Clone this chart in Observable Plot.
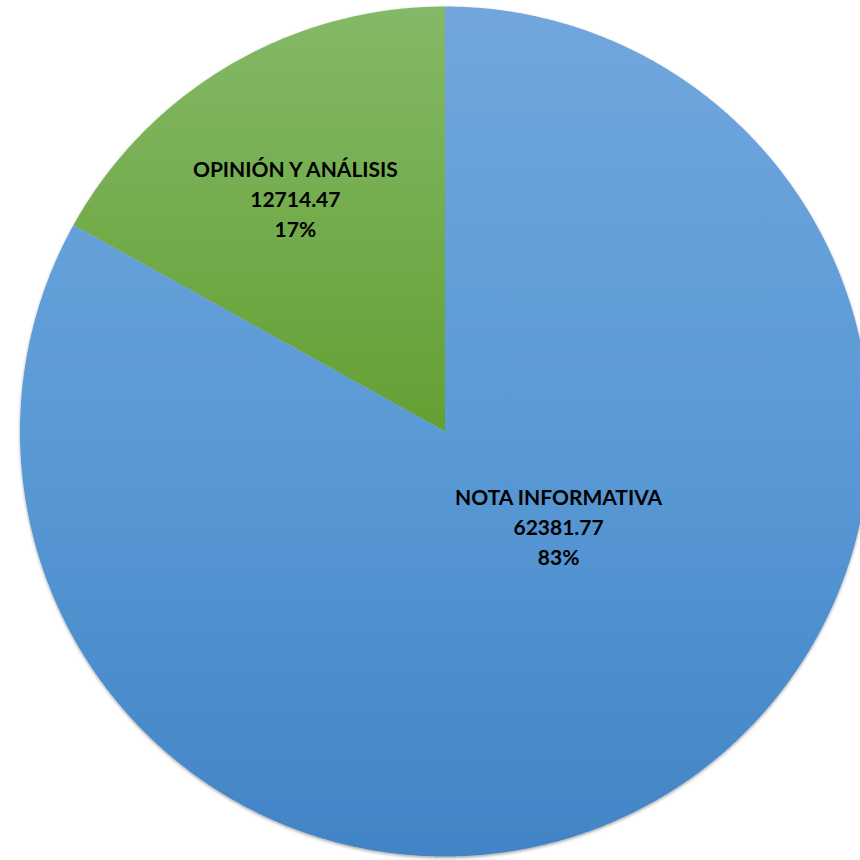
<!DOCTYPE html>
<html>
<head>
<meta charset="utf-8">
<script src="https://cdn.jsdelivr.net/npm/d3@7"></script>
<script src="https://cdn.jsdelivr.net/npm/@observablehq/plot@0.6"></script>
<style>
html, body { margin: 0; padding: 0; background: #fff; overflow: hidden; }
#chart svg { overflow: hidden; display: block; }
</style>
</head>
<body>
<div id="chart"></div>
<script>
const categories = ["OPINIÓN Y ANÁLISIS", "NOTA INFORMATIVA"];
const values = [12714.47, 62381.77];
const percentLabels = ["17%", "83%"];
const gradientIds = ["gGreen", "gBlue"];

// Slices drawn counter-clockwise from 12 o'clock
const pie = d3.pie().sort(null).startAngle(0).endAngle(-2 * Math.PI)(values);

const slicePoints = [];
pie.forEach((p, i) => {
  const a0 = p.startAngle, a1 = p.endAngle;
  const n = Math.max(4, Math.ceil(Math.abs(a1 - a0) / 0.005));
  slicePoints.push({cat: categories[i], x: 0, y: 0});
  for (let k = 0; k <= n; k++) {
    const a = a0 + (a1 - a0) * k / n;
    slicePoints.push({cat: categories[i], x: Math.sin(a), y: Math.cos(a)});
  }
  slicePoints.push({cat: categories[i], x: 0, y: 0});
});

const labelData = pie.map((p, i) => {
  const mid = (p.startAngle + p.endAngle) / 2;
  const rr = i === 0 ? 0.62 : 0.36;
  return {
    cat: categories[i],
    x: Math.sin(mid) * rr,
    y: Math.cos(mid) * rr,
    text: `${categories[i]}\n${values[i].toFixed(2)}\n${percentLabels[i]}`
  };
});

const defs = () => {
  const ns = "http://www.w3.org/2000/svg";
  const d = document.createElementNS(ns, "defs");
  const mk = (id, stops) => {
    const g = document.createElementNS(ns, "linearGradient");
    g.setAttribute("id", id);
    g.setAttribute("x1", "0"); g.setAttribute("y1", "0");
    g.setAttribute("x2", "0"); g.setAttribute("y2", "1");
    stops.forEach(([o, c]) => {
      const s = document.createElementNS(ns, "stop");
      s.setAttribute("offset", o); s.setAttribute("stop-color", c);
      g.appendChild(s);
    });
    d.appendChild(g);
  };
  mk("gBlue", [["0", "#72a6dd"], ["0.5", "#5a9ad6"], ["1", "#4284c6"]]);
  mk("gGreen", [["0", "#84b967"], ["1", "#63a033"]]);
  const f = document.createElementNS(ns, "filter");
  f.setAttribute("id", "shadow");
  f.setAttribute("x", "-5%"); f.setAttribute("y", "-5%");
  f.setAttribute("width", "110%"); f.setAttribute("height", "110%");
  f.innerHTML = '<feDropShadow dx="0" dy="1.5" stdDeviation="1.5" flood-color="#000" flood-opacity="0.35"/>';
  d.appendChild(f);
  return d;
};

const textStyle = {
  x: "x", y: "y", text: "text",
  fontFamily: "Lato, 'Open Sans', sans-serif",
  fontWeight: "bold",
  fontSize: 21,
  lineHeight: 1.43,
  fill: "#000"
};

const chart = Plot.plot({
  width: 860,
  height: 860,
  margin: 0,
  x: {domain: [-1, 1], range: [19.5, 869.5], axis: null},
  y: {domain: [-1, 1], range: [856, 6], axis: null},
  marks: [
    defs,
    Plot.line(slicePoints, {
      x: "x", y: "y", z: "cat",
      fill: d => `url(#${gradientIds[categories.indexOf(d.cat)]})`,
      stroke: "none",
      curve: "linear"
    }),
    Plot.text(labelData.slice(0, 1), {...textStyle, dx: -16, dy: -7}),
    Plot.text(labelData.slice(1), {...textStyle, dx: 36, dy: -38})
  ]
});
chart.querySelectorAll("g[aria-label='line']").forEach(g => g.setAttribute("filter", "url(#shadow)"));
document.getElementById("chart").appendChild(chart);
</script>
</body>
</html>
